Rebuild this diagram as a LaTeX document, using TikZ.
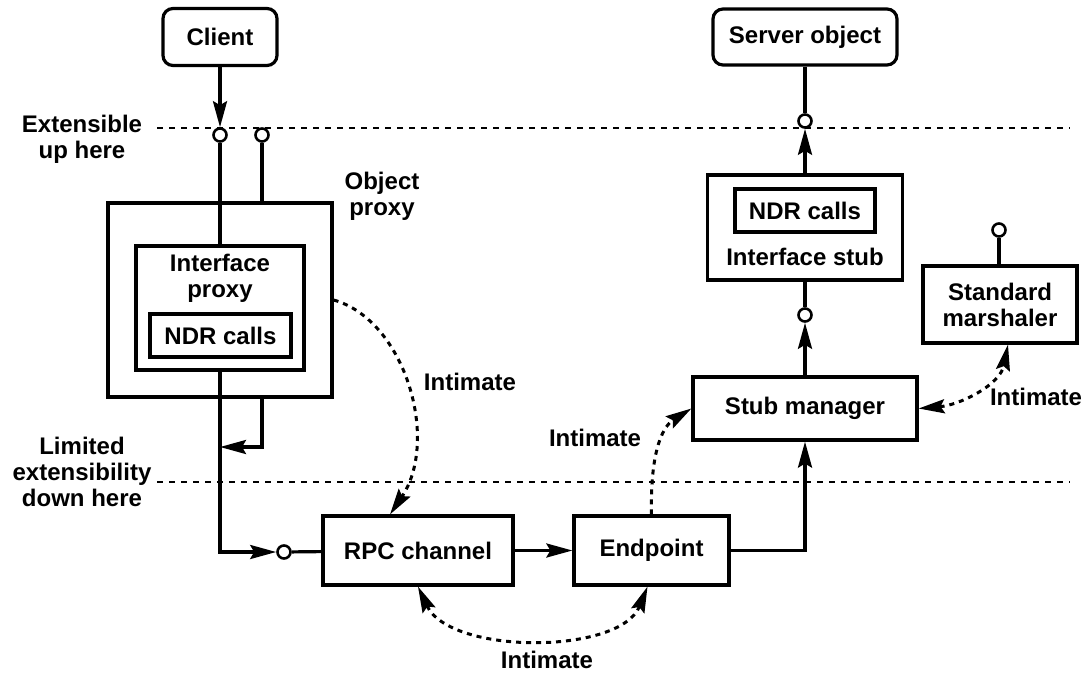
\documentclass[tikz,border=0pt]{standalone}
\usepackage{fontspec}
\setmainfont{Liberation Sans}
\usetikzlibrary{arrows.meta,calc}

\tikzset{
  box/.style={draw, line width=1.6pt, inner sep=0pt, align=center},
  rbox/.style={box, rounded corners=5pt},
  plug/.style={circle, draw, line width=1.3pt, fill=white, minimum size=6.5pt, inner sep=0pt},
  wire/.style={line width=1.6pt},
  tip/.style={-{Stealth[length=13pt,width=7pt,inset=2pt]}},
  twotips/.style={{Stealth[length=13pt,width=7pt,inset=2pt]}-{Stealth[length=13pt,width=7pt,inset=2pt]}},
  intim/.style={line width=1.5pt, dash pattern=on 2.5pt off 2.5pt},
  sepline/.style={line width=0.6pt, dash pattern=on 3pt off 3pt},
  lbl/.style={align=center, inner sep=0pt}
}

\begin{document}
\begin{tikzpicture}[x=0.5pt, y=-0.5pt, font={\fontsize{12}{13}\selectfont\bfseries}]
\fill[white] (0,0) rectangle (1086,675);
\useasboundingbox (0,0) rectangle (1086,675);

% the two limits
\draw[sepline] (157,128) -- (1070,128);
\draw[sepline] (157,482) -- (1070,482);
\node[lbl] (ext) at (82,139) {Extensible\\up here};
\node[lbl] (lim) at (82,472) {Limited\\extensibility\\down here};

% client side
\node[rbox, minimum width=57pt, minimum height=28.5pt] (client) at (220,37) {Client};
\node[box, minimum width=112pt, minimum height=97pt] (op) at (220,300) {};
\node[lbl] (opl) at (382,196) {Object\\proxy};
\node[box, minimum width=84pt, minimum height=62pt] (ip) at (220,308) {};
\node[lbl] (ipl) at (220,278) {Interface\\proxy};
\node[box, minimum width=70.5pt, minimum height=21.5pt] (ndra) at (220.5,335.5) {NDR calls};
\node[plug] (p1) at (220,135) {};
\node[plug] (p2) at (262,135) {};
\node[plug] (p3) at (284,552) {};
\coordinate (join) at (220,447);

% channel
\node[box, minimum width=95pt, minimum height=34.5pt] (rpc) at (418,550.5) {RPC channel};
\node[box, minimum width=77.5pt, minimum height=34.5pt] (ep) at (651.5,550.5) {Endpoint};

% server side
\node[rbox, minimum width=92pt, minimum height=28pt] (so) at (805,37) {Server object};
\node[box, minimum width=97.5pt, minimum height=52.5pt] (is) at (805,227.5) {};
\node[box, minimum width=70pt, minimum height=21.5pt] (ndrb) at (805,210.5) {NDR calls};
\node[lbl] (isl) at (805,257) {Interface stub};
\node[box, minimum width=112pt, minimum height=31.5pt] (sm) at (805,408.5) {Stub manager};
\node[box, minimum width=77pt, minimum height=38.5pt] (marsh) at (1000,304.5) {Standard\\marshaler};
\node[plug] (p4) at (805,121) {};
\node[plug] (p5) at (805,315) {};
\node[plug] (p6) at (999,230) {};

% wires
\draw[wire, tip] (client) -- (p1);
\draw[wire] (p1) -- (ip.north);
\draw[wire] (p2) -- (p2 |- op.north);
\draw[wire, tip] (ip.south) |- (p3);
\draw[wire] (p3) -- (rpc);
\draw[wire, tip] (p2 |- op.south) |- (join);
\draw[wire, tip] (rpc) -- (ep);
\draw[wire, tip] (ep.east) -| (sm.south);
\draw[wire] (so) -- (p4);
\draw[wire, tip] (is) -- (p4);
\draw[wire] (is) -- (p5);
\draw[wire, tip] (sm) -- (p5);
\draw[wire] (p6) -- (p6 |- marsh.north);

% intimate links
\draw[intim, tip] (op.east) .. controls (405,320) and (440,440) .. ($(rpc.north)+(-28,0)$);
\draw[intim, tip] (ep.north) .. controls (650,445) and (665,425) .. (sm.west);
\draw[intim, twotips] (sm.east) .. controls (960,405) and (1000,385) .. ($(marsh.south)+(8,0)$);
\draw[intim, twotips] (rpc.south) .. controls (450,655) and (620,655) .. ($(ep.south)+(-4,0)$);
\node[lbl] (int1) at (470,382) {Intimate};
\node[lbl] (int2) at (595,438) {Intimate};
\node[lbl] (int3) at (1036,397) {Intimate};
\node[lbl] (int4) at (547,660) {Intimate};
\end{tikzpicture}
\end{document}
